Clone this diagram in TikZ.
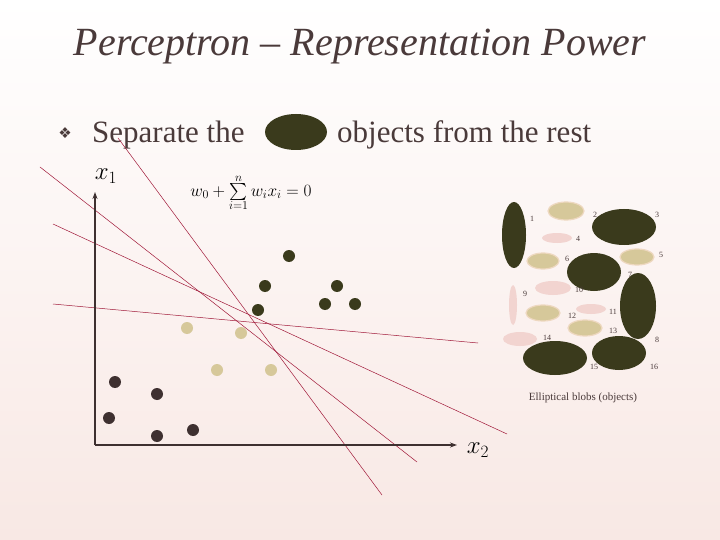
\documentclass[tikz,border=0pt]{standalone}
\usepackage{fontspec}
\usepackage{graphicx}
\setmainfont{Liberation Serif}
\newfontfamily\dejavu{DejaVu Sans}
\definecolor{dk}{HTML}{3A3A1C}
\definecolor{br}{HTML}{3E3030}
\definecolor{tn}{HTML}{D6C89A}
\definecolor{tnb}{HTML}{EED8C0}
\definecolor{pk}{HTML}{F2D4D0}
\definecolor{rl}{HTML}{A01838}
\definecolor{tx}{HTML}{4A3A3A}
\definecolor{bgb}{HTML}{F8E8E4}
\usetikzlibrary{arrows.meta}
\tikzset{
 sep/.style={rl,line width=0.5pt},
 ax/.style={br,line width=1.3pt,-{Stealth[length=7pt,width=5pt]}},
 dd/.style={circle,fill=dk,inner sep=0,minimum size=12pt},
 bd/.style={circle,fill=br,inner sep=0,minimum size=12pt},
 td/.style={circle,fill=tn,inner sep=0,minimum size=12pt},
 num/.style={font=\fontsize{8}{9}\selectfont,text=tx,inner sep=0},
}
\begin{document}
\begin{tikzpicture}[x=1pt,y=-1pt]
\shade[top color=white,bottom color=bgb] (0,0) rectangle (720,540);
\useasboundingbox (0,0) rectangle (720,540);
\node[text=tx,font=\fontsize{40}{44}\selectfont\itshape] (title) at (360,47) {Perceptron – Representation Power};
\node[text=tx,font=\dejavu\fontsize{15}{15}\selectfont] (bul) at (65,133) {❖};
\node[anchor=base west,text=tx,font=\fontsize{31}{34}\selectfont,inner sep=0] (s1) at (92,143) {Separate the};
\fill[dk] (296,132) ellipse [x radius=31,y radius=18];
\node[anchor=base west,text=tx,font=\fontsize{31}{34}\selectfont,inner sep=0] (s2) at (337,143) {objects from the rest};
% lines
\coordinate (a1) at (40,167); \coordinate (a2) at (417,462);
\coordinate (b1) at (118,138); \coordinate (b2) at (382,495);
\coordinate (c1) at (53,224); \coordinate (c2) at (507,434);
\coordinate (d1) at (53,304); \coordinate (d2) at (478,343);
\draw[sep] (a1)--(a2); \draw[sep] (b1)--(b2); \draw[sep] (c1)--(c2); \draw[sep] (d1)--(d2);
% axes
\coordinate (o) at (95,445);
\coordinate (yt) at (95,192);
\coordinate (xt) at (457,445);
\draw[ax] (o)--(yt); \draw[ax] (o)--(xt);
\node[font=\fontsize{26}{26}\selectfont] (x1) at (106,176) {$x_1$};
\node[font=\fontsize{26}{26}\selectfont] (x2) at (478,450) {$x_2$};
\node[font=\fontsize{18}{18}\selectfont,text=black] (eq) at (251,193) {$w_0+\mathop{\vcenter{\hbox{\scalebox{1.7}{$\sum$}}}}\limits_{i=1}^{n} w_i x_i = 0$};
% dots
\foreach \x/\y [count=\i] in {289/256,265/286,337/286,258/310,325/304,355/304} \node[dd] (u\i) at (\x,\y) {};
\foreach \x/\y [count=\i] in {187/328,241/333,217/370,271/370} \node[td] (t\i) at (\x,\y) {};
\foreach \x/\y [count=\i] in {115/382,157/394,109/418,157/436,193/430} \node[bd] (l\i) at (\x,\y) {};
% blobs
\fill[dk] (514,235) ellipse [x radius=12,y radius=33];
\fill[tn,draw=tnb,line width=1.2pt] (566,211) ellipse [x radius=18,y radius=9];
\fill[dk] (624,227) ellipse [x radius=32,y radius=18];
\fill[pk] (557,238) ellipse [x radius=15,y radius=5];
\fill[tn,draw=tnb,line width=1.2pt] (637,257) ellipse [x radius=17,y radius=8];
\fill[tn,draw=tnb,line width=1.2pt] (543,261) ellipse [x radius=16,y radius=8];
\fill[dk] (594,272) ellipse [x radius=27,y radius=19];
\fill[dk] (638,306) ellipse [x radius=18,y radius=33];
\fill[pk] (513,305) ellipse [x radius=4,y radius=20];
\fill[pk] (553,288) ellipse [x radius=18,y radius=7];
\fill[pk] (591,309) ellipse [x radius=15,y radius=5];
\fill[tn,draw=tnb,line width=1.2pt] (543,313) ellipse [x radius=17,y radius=8];
\fill[tn,draw=tnb,line width=1.2pt] (585,328) ellipse [x radius=17,y radius=8];
\fill[pk] (520,339) ellipse [x radius=17,y radius=7];
\fill[dk] (555,358) ellipse [x radius=32,y radius=17];
\fill[dk] (619,353) ellipse [x radius=27,y radius=17];
\foreach \n/\x/\y in {1/532/219,2/595/215,3/657/215,4/578/239,5/661/255,6/567/259,7/630/275,8/657/340,9/525/294,10/579/290,11/613/312,12/572/316,13/613/331,14/547/338,15/594/367,16/654/367}
  \node[num] (n\n) at (\x,\y) {\n};
\node[text=tx,font=\fontsize{11}{12}\selectfont] (cap) at (583,398) {Elliptical blobs (objects)};
\end{tikzpicture}
\end{document}
